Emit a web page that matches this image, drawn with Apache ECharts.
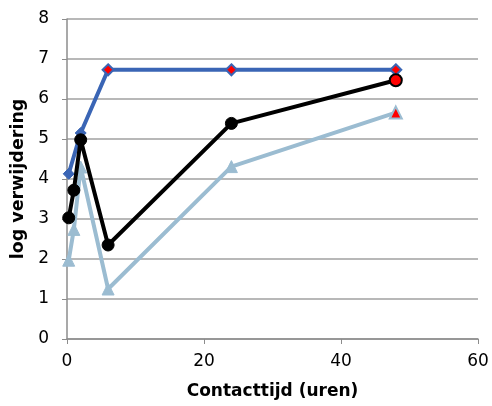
<!DOCTYPE html>
<html>
<head>
<meta charset="utf-8">
<script src="https://cdn.jsdelivr.net/npm/echarts@6/dist/echarts.min.js"></script>
<style>
  html, body { margin: 0; padding: 0; background: #fff; }
  #chart { width: 492px; height: 406px; }
</style>
</head>
<body>
<div id="chart"></div>
<script>
// Contact time in hours, shared by all three series
const hours = [0.25, 1, 2, 6, 24, 48];
const blueHours = [0.25, 2, 6, 24, 48];

// log removal per series
const blueValues = [4.13, 5.15, 6.73, 6.73, 6.73];
const blackValues = [3.03, 3.72, 4.98, 2.35, 5.39, 6.47];
const lightValues = [1.97, 2.74, 4.3, 1.25, 4.31, 5.66];

// points drawn with a red fill
const blueRed = [6, 24, 48];
const blackRed = [48];
const lightRed = [48];

const xTicks = [0, 20, 40, 60];
const yTicks = [0, 1, 2, 3, 4, 5, 6, 7, 8];

const font = 'DejaVu Sans';

function pairs(xs, ys, redAt, border) {
  return xs.map((x, i) => {
    const p = { value: [x, ys[i]] };
    if (redAt.includes(x)) {
      p.itemStyle = { color: '#ff0000', borderColor: border, borderWidth: 2 };
    }
    return p;
  });
}

const chart = echarts.init(document.getElementById('chart'));
chart.setOption({
  animation: false,
  grid: { left: 67, right: 14, top: 19, bottom: 67 },
  xAxis: {
    type: 'value',
    min: xTicks[0], max: xTicks[xTicks.length - 1], interval: 20,
    name: 'Contacttijd (uren)',
    nameLocation: 'middle', nameGap: 44,
    nameTextStyle: { fontFamily: font, fontWeight: 'bold', fontSize: 17, color: '#000' },
    axisLine: { show: true, lineStyle: { color: '#8c8c8c', width: 1.5 } },
    axisTick: { show: true, length: 5, lineStyle: { color: '#8c8c8c' } },
    axisLabel: { fontFamily: font, fontSize: 17, color: '#000', margin: 14 },
    splitLine: { show: false }
  },
  yAxis: {
    type: 'value',
    min: yTicks[0], max: yTicks[yTicks.length - 1], interval: 1,
    name: 'log verwijdering',
    nameLocation: 'middle', nameGap: 34,
    nameTextStyle: { fontFamily: font, fontWeight: 'bold', fontSize: 17.5, color: '#000' },
    axisLine: { show: true, lineStyle: { color: '#8c8c8c', width: 1.5 } },
    axisTick: { show: true, length: 5, lineStyle: { color: '#8c8c8c' } },
    axisLabel: { fontFamily: font, fontSize: 17, color: '#000', margin: 18 },
    splitLine: { show: true, lineStyle: { color: '#a0a0a0', width: 1.5 } }
  },
  series: [
    {
      type: 'line', z: 2,
      data: pairs(blueHours, blueValues, blueRed, '#3a65b5'),
      symbol: 'diamond', symbolSize: 11,
      lineStyle: { color: '#3a65b5', width: 4 },
      itemStyle: { color: '#3a65b5', borderColor: '#3a65b5', borderWidth: 1 }
    },
    {
      type: 'line', z: 3,
      data: pairs(hours, lightValues, lightRed, '#9bbcd1'),
      symbol: 'triangle', symbolSize: 12,
      lineStyle: { color: '#9bbcd1', width: 4 },
      itemStyle: { color: '#9bbcd1', borderColor: '#9bbcd1', borderWidth: 1 }
    },
    {
      type: 'line', z: 4,
      data: pairs(hours, blackValues, blackRed, '#000000'),
      symbol: 'circle', symbolSize: 12,
      lineStyle: { color: '#000000', width: 4 },
      itemStyle: { color: '#000000', borderColor: '#000000', borderWidth: 1 }
    }
  ]
});
</script>
</body>
</html>
